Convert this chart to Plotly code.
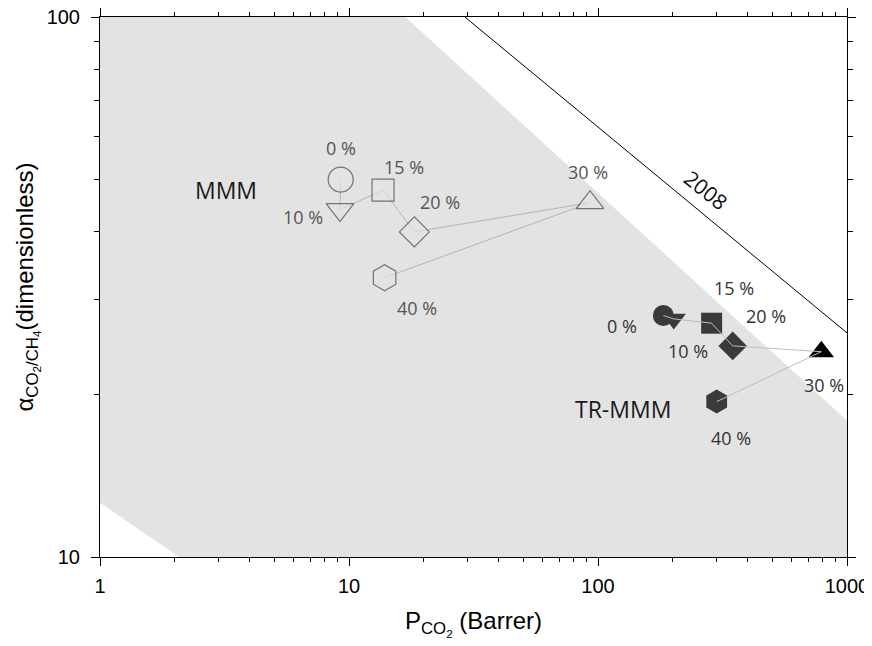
import math
import plotly.graph_objects as go

# ---------------- data ----------------
pct_labels = ["0 %", "10 %", "15 %", "20 %", "30 %", "40 %"]

mmm_p = [9.26, 9.2, 13.7, 18.3, 92.9, 13.9]
mmm_alpha = [50.0, 44.0, 47.8, 40.0, 45.3, 32.9]

tr_p = [183, 201.6, 286, 347.5, 788.6, 299.7]
tr_alpha = [28.0, 27.6, 27.1, 24.6, 24.0, 19.4]

# shaded region (literature data envelope)
region_p = [1, 16.85, 1000, 1000, 2.08, 1]
region_alpha = [100, 100, 17.9, 10, 10, 12.6]

# 2008 upper bound endpoints
bound_p = [29.2, 1000]
bound_alpha = [100, 26.0]

x_ticks = [1, 10, 100, 1000]
y_ticks = [10, 100]

# ---------------- styling ----------------
symbols = ["circle", "triangle-down", "square", "diamond", "triangle-up", "hexagon"]
mmm_sizes = [25, 24, 22, 23, 24, 26]
tr_sizes = [21, 21, 21, 22, 22, 24]
tr_colors = ["#3a3a3a", "#3a3a3a", "#3a3a3a", "#3a3a3a", "#000000", "#3a3a3a"]
region_color = "#e3e3e3"

# label offsets in px (dx right, dy down)
mmm_off = [(0, -32), (-37, 7), (21, -23), (26, -30), (-2, -31), (32, 30)]
tr_off = [(-41, 10), (14, 32), (22, -35), (33, -30), (3, 33), (14, 36)]

fig = go.Figure()

fig.add_trace(go.Scatter(x=region_p, y=region_alpha, fill="toself", fillcolor=region_color,
                         mode="lines", line=dict(width=0, color=region_color),
                         hoverinfo="skip", showlegend=False))

fig.add_trace(go.Scatter(x=bound_p, y=bound_alpha, mode="lines",
                         line=dict(color="black", width=1), showlegend=False))

# MMM: connecting line under open markers
fig.add_trace(go.Scatter(x=mmm_p, y=mmm_alpha, mode="lines",
                         line=dict(color="#b4b4b4", width=1), showlegend=False))
fig.add_trace(go.Scatter(x=mmm_p, y=mmm_alpha, mode="markers",
                         marker=dict(symbol=symbols, size=mmm_sizes, color=region_color,
                                     line=dict(color="#444444", width=1.2)),
                         showlegend=False))

# TR-MMM: filled markers, line drawn on top
fig.add_trace(go.Scatter(x=tr_p, y=tr_alpha, mode="markers",
                         marker=dict(symbol=symbols, size=tr_sizes, color=tr_colors, opacity=1,
                                     line=dict(width=0)),
                         showlegend=False))
fig.add_trace(go.Scatter(x=tr_p, y=tr_alpha, mode="lines",
                         line=dict(color="#bdbdbd", width=1), showlegend=False))

label_font = "Open Sans, Noto Sans, sans-serif"
for lab, xv, yv, (dx, dy) in zip(pct_labels, mmm_p, mmm_alpha, mmm_off):
    fig.add_annotation(x=math.log10(xv), y=math.log10(yv), text=lab, showarrow=False,
                       xshift=dx, yshift=-dy, font=dict(family=label_font, size=18, color="#555555"))
for lab, xv, yv, (dx, dy) in zip(pct_labels, tr_p, tr_alpha, tr_off):
    fig.add_annotation(x=math.log10(xv), y=math.log10(yv), text=lab, showarrow=False,
                       xshift=dx, yshift=-dy, font=dict(family=label_font, size=18, color="#333333"))

fig.add_annotation(x=math.log10(mmm_p[0]), y=math.log10(mmm_alpha[0]), text="MMM", showarrow=False,
                   xshift=-115, yshift=-10, font=dict(family=label_font, size=23, color="#1a1a1a"))
fig.add_annotation(x=math.log10(tr_p[0]), y=math.log10(tr_alpha[0]), text="TR-MMM", showarrow=False,
                   xshift=-40, yshift=-93, font=dict(family=label_font, size=23, color="#1a1a1a"))
fig.add_annotation(x=math.log10(bound_p[0]), y=math.log10(bound_alpha[0]), text="2008", showarrow=False,
                   xshift=241, yshift=-173, textangle=39,
                   font=dict(family=label_font, size=21, color="#111111"))

axis_font = "Liberation Sans, Arial, sans-serif"
minor_x = [m * d for d in (1, 10, 100) for m in range(2, 10)]
minor_y = [m * 10 for m in range(2, 10)]

fig.update_xaxes(type="log", range=[0, 3], showline=True, linecolor="black", linewidth=1,
                 mirror="allticks", ticks="outside", ticklen=8, tickcolor="black", automargin=False,
                 ticklabeloverflow="allow", ticklabelstandoff=3,
                 tickvals=x_ticks, ticktext=[str(v) for v in x_ticks],
                 minor=dict(ticks="outside", ticklen=4, tickcolor="black", tickvals=minor_x, showgrid=False),
                 showgrid=False, zeroline=False,
                 tickfont=dict(family=axis_font, size=20, color="black"),
                 title=dict(text="P<sub>CO<sub>2</sub></sub> (Barrer)", standoff=16,
                            font=dict(family=axis_font, size=24, color="black")))
fig.update_yaxes(type="log", range=[1, 2], showline=True, linecolor="black", linewidth=1,
                 mirror="allticks", ticks="outside", ticklen=8, tickcolor="black", automargin=False,
                 ticklabeloverflow="allow", ticklabelstandoff=7,
                 tickvals=y_ticks, ticktext=[str(v) for v in y_ticks],
                 minor=dict(ticks="outside", ticklen=5, tickcolor="black", tickvals=minor_y, showgrid=False),
                 showgrid=False, zeroline=False,
                 tickfont=dict(family=axis_font, size=20, color="black"),
                 title=dict(text="α<sub>CO<sub>2</sub>/CH<sub>4</sub></sub>(dimensionless)", standoff=6,
                            font=dict(family=axis_font, size=24, color="black")))

# page body adds an ~8px offset; size the figure so the plot lands where the reference has it
fig.update_layout(width=864, height=638, margin=dict(l=92, r=25, t=9, b=89),
                  plot_bgcolor="white", paper_bgcolor="white", showlegend=False)

fig.write_html("out.html")
